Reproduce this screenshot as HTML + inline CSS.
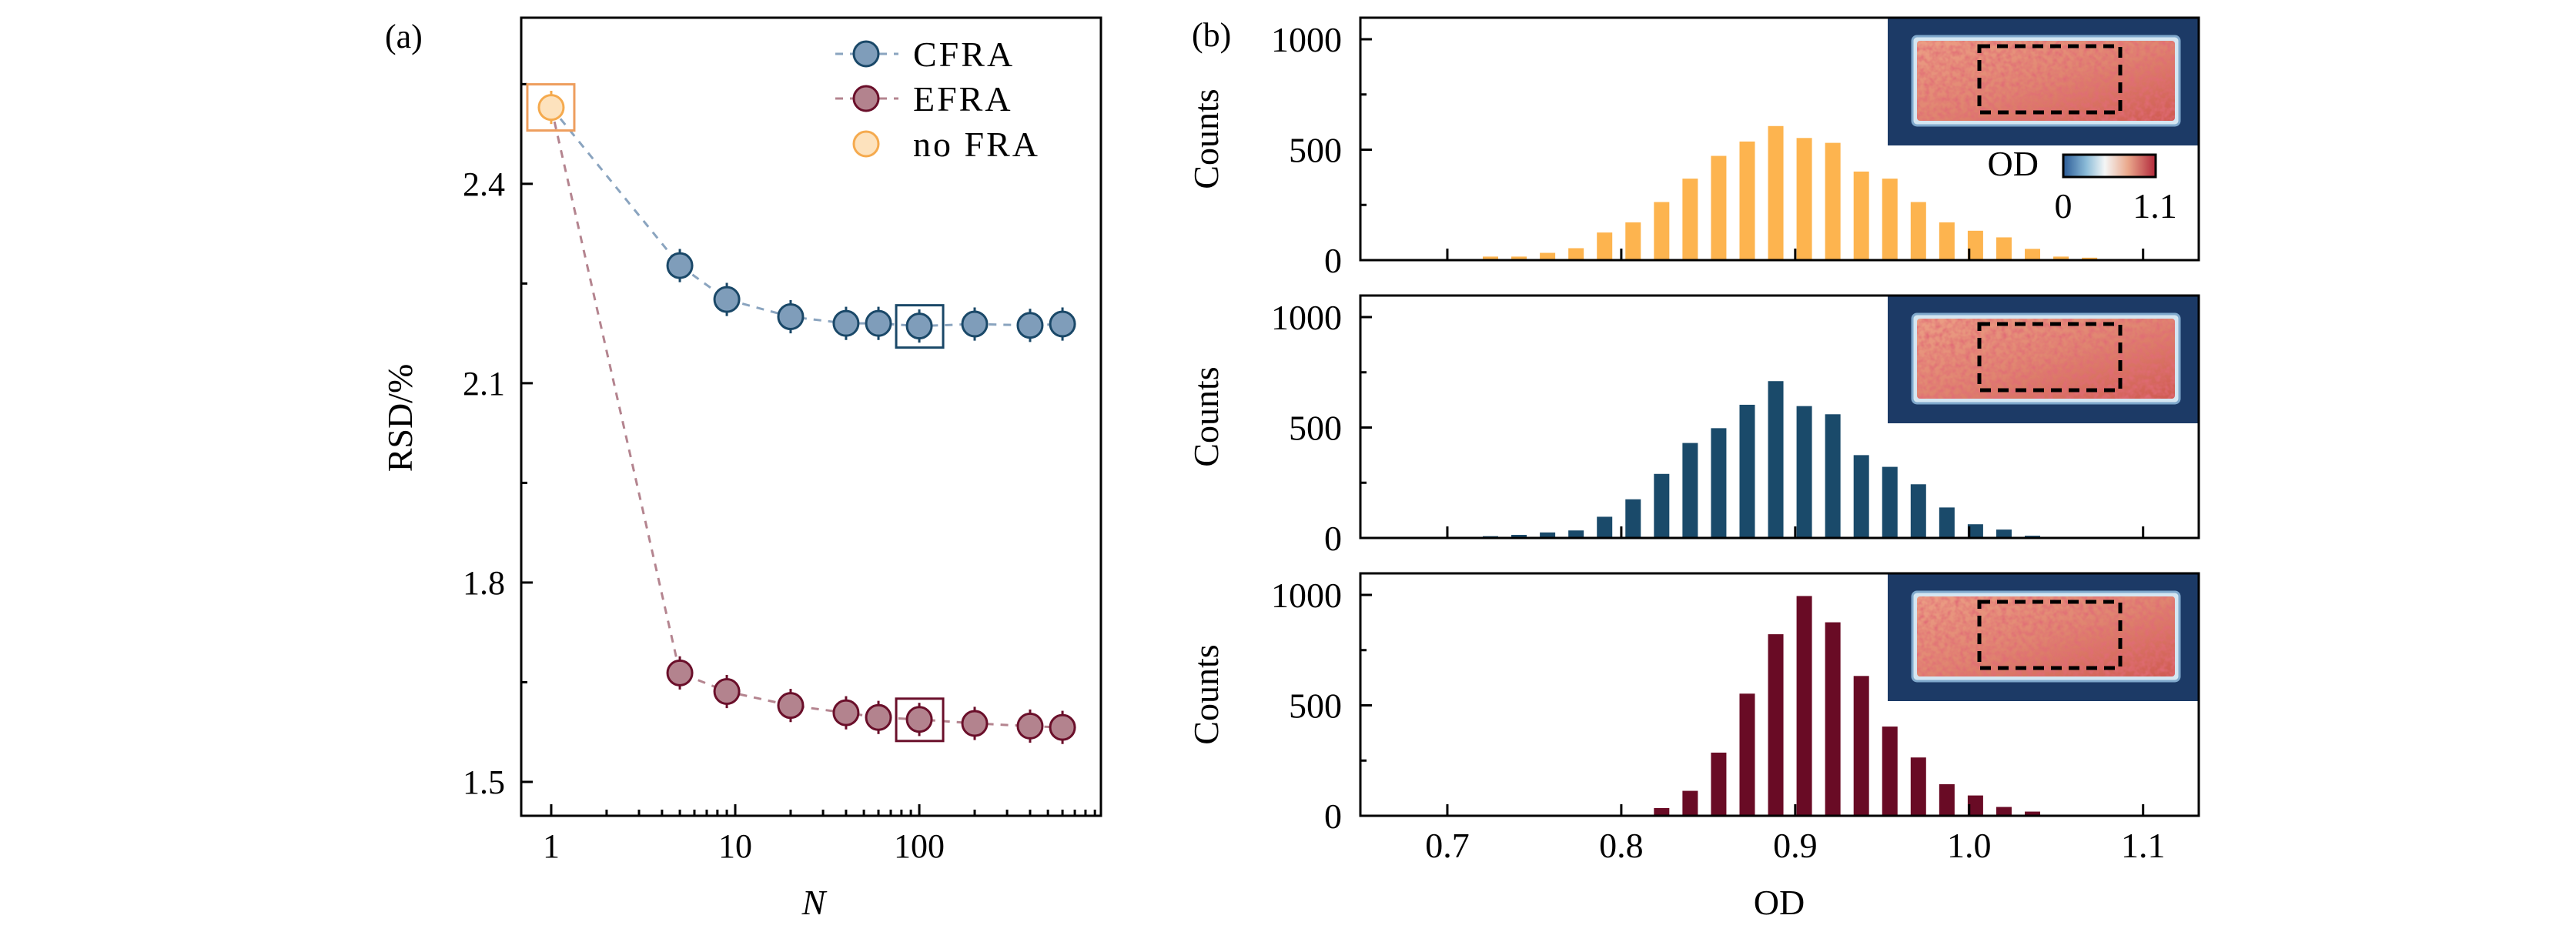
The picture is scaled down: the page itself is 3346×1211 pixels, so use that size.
<!DOCTYPE html>
<html><head><meta charset="utf-8"><style>
html,body{margin:0;padding:0;background:#fff}
svg{display:block}
text{font-family:"Liberation Serif",serif;fill:#000}
</style></head><body>
<svg id="fig" width="3346" height="1211" viewBox="0 0 3346 1211" xmlns="http://www.w3.org/2000/svg">
<defs>
<linearGradient id="cbar" x1="0" x2="1" y1="0" y2="0">
<stop offset="0" stop-color="#2a5a96"/><stop offset="0.25" stop-color="#8cbcd8"/><stop offset="0.45" stop-color="#f4f6f6"/><stop offset="0.7" stop-color="#eaa88c"/><stop offset="1" stop-color="#b2283a"/>
</linearGradient>
<linearGradient id="cloud" x1="0" x2="1" y1="0" y2="1">
<stop offset="0" stop-color="#ec9f86"/><stop offset="0.5" stop-color="#e08570"/><stop offset="1" stop-color="#cf5a52"/>
</linearGradient>
<filter id="noise" x="0" y="0" width="1" height="1">
<feTurbulence type="fractalNoise" baseFrequency="0.15" numOctaves="2" seed="3" result="n"/>
<feColorMatrix in="n" type="matrix" values="0 0 0 0 0.75  0 0 0 0 0.15  0 0 0 0 0.18  0 0 0 1.8 -0.6" result="c"/>
<feComposite in="c" in2="SourceGraphic" operator="in" result="m"/>
<feMerge><feMergeNode in="SourceGraphic"/><feMergeNode in="m"/></feMerge>
</filter>
</defs>
<g id="pa"></g>
<g id="pb"></g>
</svg>
<script>
// ---------- Panel (a) data ----------
const nValues = [5, 9, 20, 40, 60, 100, 200, 400, 600];
const cfraRsd = [2.277, 2.226, 2.200, 2.190, 2.190, 2.186, 2.189, 2.187, 2.189];
const efraRsd = [1.664, 1.636, 1.615, 1.604, 1.597, 1.594, 1.588, 1.584, 1.582];
const noFraN = [1];
const noFraRsd = [2.515];
const rsdErr = [0.025];
const yTicksA = [1.5, 1.8, 2.1, 2.4];
const yMinorA = [1.65, 1.95, 2.25, 2.55];
const xTicksA = [1, 10, 100];
const xTickLabelsA = ["1", "10", "100"];
const highlightN = [100];

// ---------- Panel (b) data ----------
const binCenters = [0.7248,0.7412,0.7576,0.7740,0.7904,0.8068,0.8232,0.8396,0.8560,0.8724,0.8888,0.9052,0.9216,0.9380,0.9544,0.9708,0.9872,1.0036,1.0200,1.0364,1.0528,1.0692];
const countsNoFra = [16,16,33,54,125,171,263,369,472,537,607,553,531,401,369,263,171,133,103,51,16,11];
const countsCfra  = [8,14,25,34,96,175,290,430,497,603,710,597,560,375,322,243,138,62,38,10,3,0];
const countsEfra  = [0,0,0,0,0,5,35,113,286,553,822,995,876,633,404,264,143,92,40,19,5,0];
const xTicksB = [0.7, 0.8, 0.9, 1.0, 1.1];
const xTickLabelsB = ["0.7", "0.8", "0.9", "1.0", "1.1"];
const yTicksB = [0, 500, 1000];
const yMinorB = [250, 750];

const NS = "http://www.w3.org/2000/svg";
function mk(parent, tag, attrs, txt) {
  const e = document.createElementNS(NS, tag);
  for (const k in attrs) e.setAttribute(k, attrs[k]);
  if (txt !== undefined) e.textContent = txt;
  parent.appendChild(e);
  return e;
}

// ================= Panel a =================
const pa = document.getElementById('pa');
const A = {l: 677, r: 1430, t: 23, b: 1060, xmin: -0.163, xmax: 2.987, ymin: 1.449, ymax: 2.65};
const xA = n => A.l + (Math.log10(n) - A.xmin) / (A.xmax - A.xmin) * (A.r - A.l);
const yA = v => A.b - (v - A.ymin) / (A.ymax - A.ymin) * (A.b - A.t);

let lab = mk(pa, 'text', {x: 500, y: 62, 'font-size': 44}, '(a)');



yTicksA.forEach(v => {
  let t = mk(pa, 'line', {x1: A.l, x2: A.l + 15, y1: yA(v), y2: yA(v), stroke: '#000', 'stroke-width': 3});
  
  
  let tl = mk(pa, 'text', {x: 656, y: yA(v) + 15, 'font-size': 44, 'text-anchor': 'end'}, v.toFixed(1));
  
  
});
yMinorA.forEach(v => {
  let t = mk(pa, 'line', {x1: A.l, x2: A.l + 8, y1: yA(v), y2: yA(v), stroke: '#000', 'stroke-width': 3});
  
  
});
xTicksA.forEach((n, i) => {
  let t = mk(pa, 'line', {x1: xA(n), x2: xA(n), y1: A.b, y2: A.b - 15, stroke: '#000', 'stroke-width': 3});
  
  
  let tl = mk(pa, 'text', {x: xA(n), y: 1114, 'font-size': 44, 'text-anchor': 'middle'}, xTickLabelsA[i]);
  
  
});
[1, 10, 100].forEach(d => {
  for (let k = 2; k <= 9; k++) {
    const n = d * k;
    if (Math.log10(n) > A.xmax) continue;
    let t = mk(pa, 'line', {x1: xA(n), x2: xA(n), y1: A.b, y2: A.b - 8, stroke: '#000', 'stroke-width': 3});
    
    
  }
});
let ax = mk(pa, 'rect', {x: A.l, y: A.t, width: A.r - A.l, height: A.b - A.t, fill: 'none', stroke: '#000', 'stroke-width': 3});



let xl = mk(pa, 'text', {x: 1057, y: 1188, 'font-size': 46, 'font-style': 'italic', 'text-anchor': 'middle'}, 'N');


let yl = mk(pa, 'text', {x: 0, y: 0, 'font-size': 46, 'text-anchor': 'middle', transform: 'translate(535,543) rotate(-90)'}, 'RSD/%');



function series(vals, lineCol, fill, edge, name) {
  const pts = [[xA(noFraN[0]), yA(noFraRsd[0])]].concat(nValues.map((n, i) => [xA(n), yA(vals[i])]));
  let pl = mk(pa, 'polyline', {points: pts.map(p => p.join(',')).join(' '), fill: 'none', stroke: lineCol, 'stroke-width': 3, 'stroke-dasharray': '10 9'});
  
  
  nValues.forEach((n, i) => {
    const cx = xA(n), cy = yA(vals[i]);
    let eb = mk(pa, 'line', {x1: cx, x2: cx, y1: yA(vals[i] + rsdErr[0]), y2: yA(vals[i] - rsdErr[0]), stroke: edge, 'stroke-width': 3});
    
    
    let c = mk(pa, 'circle', {cx: cx, cy: cy, r: 16, fill: fill, stroke: edge, 'stroke-width': 3});
    
    
  });
  highlightN.forEach(h => {
    const i = nValues.indexOf(h);
    let s = mk(pa, 'rect', {x: xA(h) - 30, y: yA(vals[i]) - 27, width: 61, height: 55, fill: 'none', stroke: edge, 'stroke-width': 3});
    
    
  });
}
series(cfraRsd, '#8aa4bf', '#7f9dba', '#1a4868', 'cfra');
series(efraRsd, '#b4848f', '#b3838e', '#6a0f2a', 'efra');

{
  const cx = xA(noFraN[0]), cy = yA(noFraRsd[0]);
  let eb = mk(pa, 'line', {x1: cx, x2: cx, y1: yA(noFraRsd[0] + rsdErr[0]), y2: yA(noFraRsd[0] - rsdErr[0]), stroke: '#f5a84a', 'stroke-width': 3});
  
  
  let c = mk(pa, 'circle', {cx: cx, cy: cy, r: 16, fill: '#fde2bd', stroke: '#f5aa4e', 'stroke-width': 3});
  
  
  let s = mk(pa, 'rect', {x: cx - 31, y: cy - 30, width: 61, height: 60, fill: 'none', stroke: '#ee9e5e', 'stroke-width': 3});
  
  
}

const legNames = ['CFRA', 'EFRA', 'no FRA'];
const legFill = ['#7f9dba', '#b3838e', '#fde2bd'];
const legEdge = ['#1a4868', '#6a0f2a', '#f5aa4e'];
const legLine = ['#8aa4bf', '#b4848f', null];
const legY = [70, 128, 187];
legNames.forEach((nm, i) => {
  const g = mk(pa, 'g', {});
  
  
  if (legLine[i]) mk(g, 'line', {x1: 1085, x2: 1167, y1: legY[i], y2: legY[i], stroke: legLine[i], 'stroke-width': 3, 'stroke-dasharray': '10 9'});
  mk(g, 'circle', {cx: 1125, cy: legY[i], r: 16, fill: legFill[i], stroke: legEdge[i], 'stroke-width': 3});
  mk(g, 'text', {x: 1186, y: legY[i] + 16, 'font-size': 46, 'letter-spacing': 3}, nm);
});

// ================= Panel b =================
const pb = document.getElementById('pb');
const B = {l: 1767, r: 2856, xmin: 0.650, xmax: 1.132};
const panelsB = [
  {t: 23, b: 338, counts: countsNoFra, col: '#fdb44f', name: 'nofra'},
  {t: 384, b: 699, counts: countsCfra, col: '#1a4a6a', name: 'cfra'},
  {t: 745, b: 1060, counts: countsEfra, col: '#690b25', name: 'efra'}
];
const xB = v => B.l + (v - B.xmin) / (B.xmax - B.xmin) * (B.r - B.l);

let lb = mk(pb, 'text', {x: 1548, y: 60, 'font-size': 44}, '(b)');



panelsB.forEach((P, pi) => {
  const ymaxC = 1000 * (P.b - P.t) / 287;
  const yB = c => P.b - c / ymaxC * (P.b - P.t);
  const g = mk(pb, 'g', {});
  
  
  P.counts.forEach((c, i) => {
    if (c <= 0) return;
    const x0 = xB(binCenters[i]) - 10;
    let r = mk(g, 'rect', {x: x0, y: yB(c), width: 20, height: P.b - yB(c), fill: P.col});
    
    
  });
  const it = P.t, ig = mk(pb, 'g', {});
  
  
  mk(ig, 'rect', {x: 2452, y: it, width: B.r - 2452, height: 166, fill: '#1c3a66'});
  mk(ig, 'rect', {x: 2484, y: it + 24, width: 347, height: 116, rx: 6, fill: '#d4e6f2', stroke: '#7fa8cc', 'stroke-width': 3});
  mk(ig, 'rect', {x: 2490, y: it + 30, width: 335, height: 104, rx: 4, fill: 'url(#cloud)', filter: 'url(#noise)'});
  let db = mk(ig, 'rect', {x: 2571, y: it + 37, width: 183, height: 86, fill: 'none', stroke: '#000', 'stroke-width': 5, 'stroke-dasharray': '14 9'});
  
  

  yTicksB.forEach(v => {
    mk(pb, 'line', {x1: B.l, x2: B.l + 15, y1: yB(v), y2: yB(v), stroke: '#000', 'stroke-width': 3});
    let tl = mk(pb, 'text', {x: 1743, y: yB(v) + 16, 'font-size': 46, 'text-anchor': 'end'}, String(v));
    
    
  });
  yMinorB.forEach(v => {
    let t = mk(pb, 'line', {x1: B.l, x2: B.l + 8, y1: yB(v), y2: yB(v), stroke: '#000', 'stroke-width': 3});
    
    
  });
  xTicksB.forEach((v, i) => {
    let t = mk(pb, 'line', {x1: xB(v), x2: xB(v), y1: P.b, y2: P.b - 15, stroke: '#000', 'stroke-width': 3});
    
    
    if (pi === 2) {
      let tl = mk(pb, 'text', {x: xB(v), y: 1114, 'font-size': 46, 'text-anchor': 'middle'}, xTickLabelsB[i]);
      
      
    }
  });
  let fr = mk(pb, 'rect', {x: B.l, y: P.t, width: B.r - B.l, height: P.b - P.t, fill: 'none', stroke: '#000', 'stroke-width': 3});
  
  
  let cl = mk(pb, 'text', {x: 0, y: 0, 'font-size': 46, 'text-anchor': 'middle', transform: 'translate(1582,' + ((P.t + P.b) / 2) + ') rotate(-90)'}, 'Counts');
  
  
});

{
  const g = mk(pb, 'g', {});
  
  
  mk(g, 'rect', {x: 2680, y: 201, width: 120, height: 29, fill: 'url(#cbar)', stroke: '#000', 'stroke-width': 3});
  mk(g, 'text', {x: 2648, y: 228, 'font-size': 46, 'text-anchor': 'end'}, 'OD');
  mk(g, 'text', {x: 2680, y: 283, 'font-size': 46, 'text-anchor': 'middle'}, '0');
  mk(g, 'text', {x: 2799, y: 283, 'font-size': 46, 'text-anchor': 'middle'}, '1.1');
}
let xlb = mk(pb, 'text', {x: 2311, y: 1188, 'font-size': 46, 'text-anchor': 'middle'}, 'OD');


</script>
</body></html>
